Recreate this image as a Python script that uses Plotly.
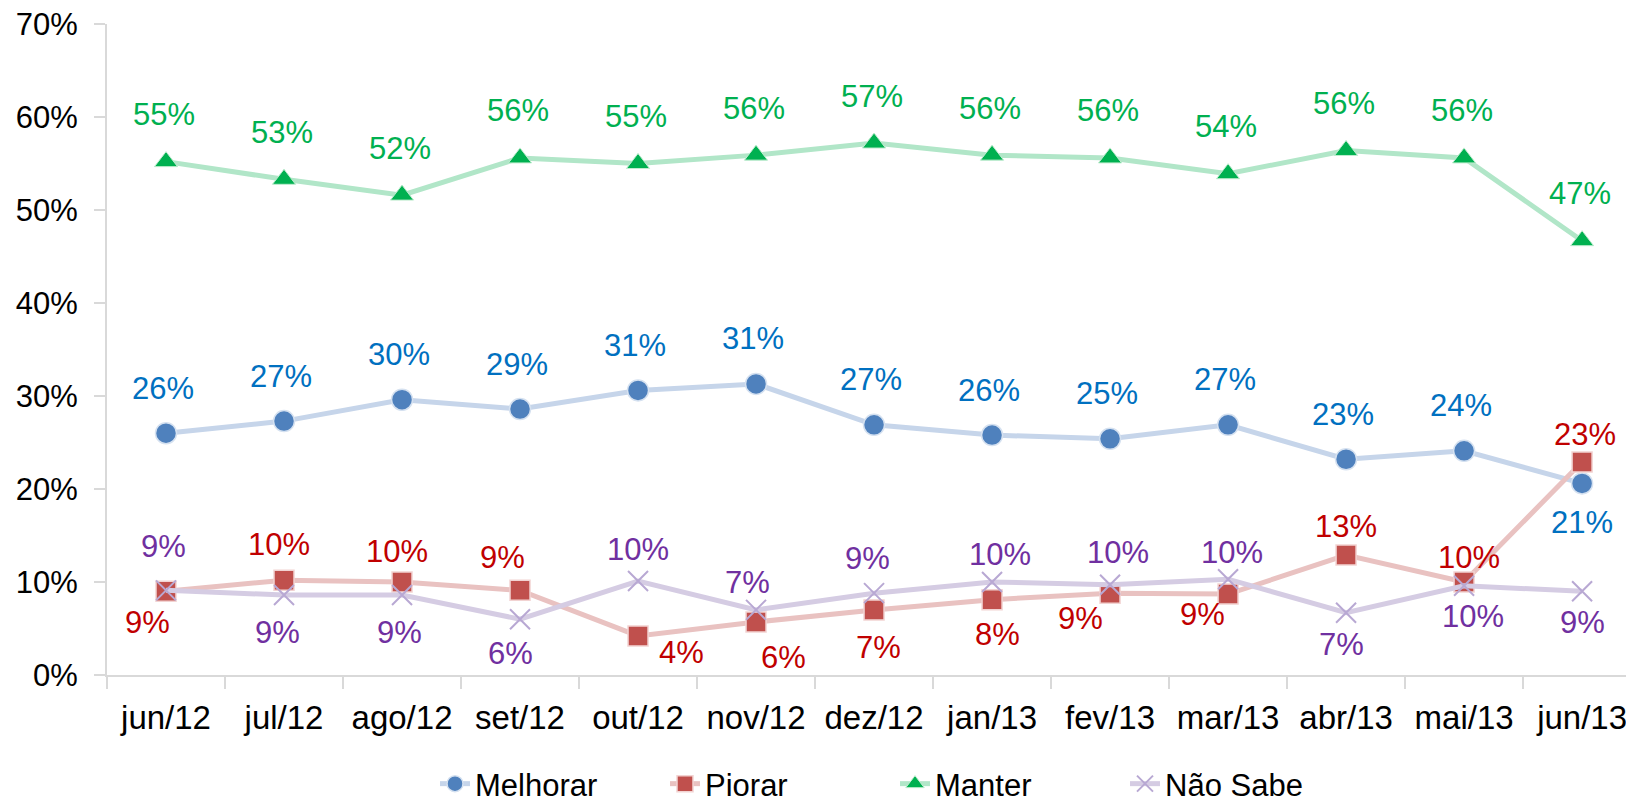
import plotly.graph_objects as go

categories = ["jun/12", "jul/12", "ago/12", "set/12", "out/12", "nov/12", "dez/12",
              "jan/13", "fev/13", "mar/13", "abr/13", "mai/13", "jun/13"]
melhorar = [26.0, 27.3, 29.6, 28.6, 30.6, 31.3, 26.9, 25.8, 25.4, 26.9, 23.2, 24.1, 20.6]
piorar = [9.0, 10.2, 10.0, 9.1, 4.2, 5.7, 7.0, 8.1, 8.8, 8.7, 12.9, 10.0, 22.9]
manter = [55.2, 53.3, 51.6, 55.6, 55.0, 55.9, 57.2, 55.9, 55.6, 53.9, 56.4, 55.6, 46.7]
nao_sabe = [9.1, 8.6, 8.6, 6.0, 10.1, 7.0, 8.8, 10.0, 9.7, 10.3, 6.7, 9.6, 9.0]
y_ticks = [0, 10, 20, 30, 40, 50, 60, 70]

# label offsets in pixels (dx right, dy down) relative to the marker
off_melhorar = [(-3, -45)] * 12 + [(0, 39)]
off_piorar = [(-19, 31), (-5, -36), (-5, -31), (-18, -33), (43, 17), (27, 36), (4, 38),
              (5, 35), (-30, 25), (-26, 20), (0, -29), (5, -25), (3, -28)]
off_manter = [(-2, -47)] * 13
off_nao = [(-3, -44), (-7, 37), (-3, 37), (-10, 34), (0, -32), (-9, -27), (-7, -35),
           (8, -28), (8, -32), (4, -27), (-5, 32), (9, 31), (0, 31)]

FONT = "Liberation Sans, Arial, sans-serif"
FS = 31

series = [
    dict(name="Melhorar", y=melhorar, off=off_melhorar, line="#c6d5ea", mcol="#4f81bd",
         mline="#d5e1f0", symbol="circle", size=21, lab="#0070c0", mlw=1.5),
    dict(name="Piorar", y=piorar, off=off_piorar, line="#e9c2c1", mcol="#c0504d",
         mline="#f2d3d2", symbol="square", size=20, lab="#c00000", mlw=1.5),
    dict(name="Manter", y=manter, off=off_manter, line="#b1e6c8", mcol="#00b050",
         mline="#bfeccf", symbol="triangle-up", size=20, lab="#00b050", mlw=1),
    dict(name="Não Sabe", y=nao_sabe, off=off_nao, line="#d5cce3", mcol="#b8a8d3",
         mline="#b8a8d3", symbol="x-thin", size=20, lab="#7030a0", mlw=2),
]

fig = go.Figure()
annotations = []
for s in series:
    fig.add_trace(go.Scatter(
        x=categories, y=s["y"], name=s["name"], mode="lines+markers",
        line=dict(color=s["line"], width=5),
        marker=dict(symbol=s["symbol"], size=s["size"], color=s["mcol"],
                    line=dict(color=s["mline"], width=s["mlw"])),
        hoverinfo="skip",
    ))
    for c, v, (dx, dy) in zip(categories, s["y"], s["off"]):
        annotations.append(dict(x=c, y=v, text=f"{v:.0f}%", showarrow=False,
                                xshift=dx, yshift=-dy,
                                font=dict(family=FONT, size=FS, color=s["lab"])))

# page has an 8px body margin: figure is 1626x795, plot area at page (107..1634, 24..675)
W, H = 1626, 795
fig.update_layout(
    width=W, height=H,
    margin=dict(l=99, r=0, t=16, b=128, autoexpand=False),
    plot_bgcolor="white", paper_bgcolor="white",
    font=dict(family=FONT, size=FS, color="black"),
    annotations=annotations,
    showlegend=True,
    legend=dict(orientation="h", x=(435 - 107) / 1527, xanchor="left",
                y=(675 - 784) / 651, yanchor="middle",
                entrywidth=185, entrywidthmode="pixels",
                font=dict(family=FONT, size=31, color="black"),
                bgcolor="rgba(0,0,0,0)"),
    xaxis=dict(type="category", range=[-0.5, 12.44], showgrid=False, automargin=False,
               showline=True, linecolor="#d9d9d9", linewidth=2,
               ticks="outside", tickson="boundaries", ticklen=12, tickwidth=2,
               tickcolor="#d9d9d9", ticklabelstandoff=12, ticklabeloverflow="allow",
               tickfont=dict(family=FONT, size=33, color="black"), zeroline=False),
    yaxis=dict(range=[0, 70], tickvals=y_ticks, ticktext=[f"{t}%" for t in y_ticks],
               showgrid=False, showline=True, linecolor="#d9d9d9", linewidth=2,
               automargin=False, ticklabeloverflow="allow",
               ticks="outside", ticklen=11, tickwidth=2, tickcolor="#d9d9d9",
               ticklabelstandoff=10,
               tickfont=dict(family=FONT, size=FS, color="black"), zeroline=False),
)

fig.write_html("out.html")
